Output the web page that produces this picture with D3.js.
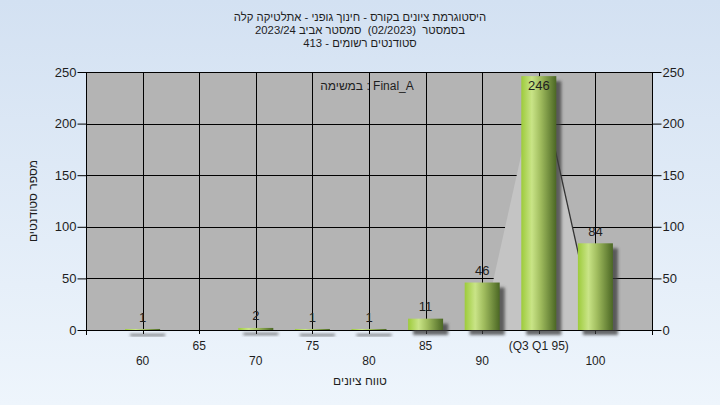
<!DOCTYPE html>
<html>
<head>
<meta charset="utf-8">
<script src="https://cdn.jsdelivr.net/npm/d3@7/dist/d3.min.js"></script>
<style>
  html, body { margin: 0; padding: 0; }
  body { width: 720px; height: 405px; overflow: hidden; }
  text { font-family: "Liberation Sans", Arial, sans-serif; fill: #1e1e1e; }
</style>
</head>
<body>
<svg id="chart" width="720" height="405"></svg>
<script>
// ---- data ----
const titleLines = [
  "היסטוגרמת ציונים בקורס - חינוך גופני - אתלטיקה קלה",
  "בסמסטר  (02/2023)  סמסטר אביב 2023/24",
  "סטודנטים רשומים - 413"
];
const annotation = "במשימה : Final_A";
const yTitle = "מספר סטודנטים";
const xTitle = "טווח ציונים";
const categories = ["60", "65", "70", "75", "80", "85", "90", "95", "100"];
const xTickLabels = ["60", "65", "70", "75", "80", "85", "90", "(Q3 Q1 95)", "100"];
const counts = [1, 0, 2, 1, 1, 11, 46, 246, 84];
const peakCats = ["90", "95", "100"];
const peakValues = [0, 246, 0];
const yTicks = [0, 50, 100, 150, 200, 250];

// ---- layout ----
const W = 720, H = 405;
const plot = { left: 86, right: 652, top: 72, bottom: 330 };

const svg = d3.select("#chart");
const defs = svg.append("defs");

const bg = defs.append("linearGradient").attr("id", "bg")
  .attr("x1", 0).attr("y1", 0).attr("x2", 0).attr("y2", 1);
bg.append("stop").attr("offset", "0%").attr("stop-color", "#d3e1f2");
bg.append("stop").attr("offset", "100%").attr("stop-color", "#eef5fc");

const barGrad = defs.append("linearGradient").attr("id", "barGrad")
  .attr("x1", 0).attr("y1", 0).attr("x2", 1).attr("y2", 0);
[["0%", "#9dcb3b"], ["30%", "#c9e487"], ["55%", "#a0bc5e"], ["100%", "#4b6724"]]
  .forEach(([o, c]) => barGrad.append("stop").attr("offset", o).attr("stop-color", c));

const blur = defs.append("filter").attr("id", "blur")
  .attr("x", "-50%").attr("y", "-50%").attr("width", "200%").attr("height", "200%");
blur.append("feGaussianBlur").attr("stdDeviation", 1.6);

svg.append("rect").attr("width", W).attr("height", H).attr("fill", "url(#bg)");

// scales
const x = d3.scalePoint().domain(categories).range([plot.left, plot.right]).padding(1);
const y = d3.scaleLinear().domain([0, 250]).range([plot.bottom, plot.top]);
const barW = 35;

// plot background
svg.append("rect")
  .attr("x", plot.left).attr("y", plot.top)
  .attr("width", plot.right - plot.left).attr("height", plot.bottom - plot.top)
  .attr("fill", "#b4b4b4");

// gridlines
const grid = svg.append("g").attr("stroke", "#000").attr("stroke-width", 1);
grid.selectAll("line.h").data(yTicks).join("line")
  .attr("x1", plot.left).attr("x2", plot.right)
  .attr("y1", d => Math.round(y(d)) + 0.5).attr("y2", d => Math.round(y(d)) + 0.5);
grid.selectAll("line.v").data(categories).join("line")
  .attr("y1", plot.top).attr("y2", plot.bottom + 4)
  .attr("x1", d => Math.round(x(d)) + 0.5).attr("x2", d => Math.round(x(d)) + 0.5);

// peak area (light triangle)
const peak = peakCats.map((c, i) => [x(c), y(peakValues[i])]);
svg.append("path")
  .attr("d", d3.line()(peak) + "Z")
  .attr("fill", "#c4c4c4");
svg.append("path")
  .attr("d", d3.line()(peak.slice(1)))
  .attr("fill", "none").attr("stroke", "#333").attr("stroke-width", 1.3);

// axes
const yLeft = d3.axisLeft(y).tickValues(yTicks).tickSize(9).tickPadding(1);
const yRight = d3.axisRight(y).tickValues(yTicks).tickSize(9).tickPadding(1);
const gl = svg.append("g").attr("transform", `translate(${plot.left + 0.5},0)`).call(yLeft);
const gr = svg.append("g").attr("transform", `translate(${plot.right + 0.5},0)`).call(yRight);
[gl, gr].forEach(g => {
  g.select(".domain").remove();
  g.selectAll(".tick line").attr("stroke", "#000");
  g.selectAll(".tick text").attr("font-size", 13).attr("fill", "#1e1e1e")
    .attr("font-family", "'Liberation Sans', Arial, sans-serif");
});
// frame lines
const frame = svg.append("g").attr("stroke", "#000").attr("stroke-width", 1);
frame.append("line").attr("x1", plot.left + 0.5).attr("x2", plot.left + 0.5)
  .attr("y1", plot.top).attr("y2", plot.bottom + 5);
frame.append("line").attr("x1", plot.right + 0.5).attr("x2", plot.right + 0.5)
  .attr("y1", plot.top).attr("y2", plot.bottom + 5);
frame.append("line").attr("x1", plot.left).attr("x2", plot.right + 1)
  .attr("y1", plot.bottom + 0.5).attr("y2", plot.bottom + 0.5);

// bars
const barData = categories.map((c, i) => ({ c, v: counts[i], label: xTickLabels[i] }))
  .filter(d => d.v > 0);
svg.append("g").selectAll("rect").data(barData).join("rect")
  .attr("x", d => x(d.c) - barW / 2 + 5)
  .attr("y", d => y(d.v) + 5)
  .attr("width", barW)
  .attr("height", d => Math.max(2, plot.bottom - y(d.v)))
  .attr("fill", "#3a3a3a").attr("opacity", 0.75)
  .attr("filter", "url(#blur)");
svg.append("g").selectAll("rect").data(barData).join("rect")
  .attr("x", d => x(d.c) - barW / 2)
  .attr("y", d => y(d.v))
  .attr("width", barW)
  .attr("height", d => plot.bottom - y(d.v))
  .attr("fill", "url(#barGrad)");

// bar labels
svg.append("g").selectAll("text").data(barData).join("text")
  .attr("x", d => x(d.c))
  .attr("y", d => Math.max(y(d.v) - 12, plot.top + 13))
  .attr("dy", "0.35em")
  .attr("text-anchor", "middle")
  .attr("font-size", 13)
  .text(d => d.v);

// x tick labels (two staggered rows)
svg.append("g").selectAll("text").data(categories).join("text")
  .attr("x", d => x(d))
  .attr("y", (d, i) => i % 2 === 0 ? 361 : 346)
  .attr("dy", "0.35em")
  .attr("text-anchor", "middle")
  .attr("font-size", 12)
  .text((d, i) => xTickLabels[i]);

// annotation
svg.append("text").attr("x", 367).attr("y", 86).attr("dy", "0.35em")
  .attr("text-anchor", "middle").attr("font-size", 12).text(annotation);

// titles
svg.append("g").selectAll("text").data(titleLines).join("text")
  .attr("x", 360).attr("y", (d, i) => 17 + i * 13)
  .attr("dy", "0.35em")
  .attr("text-anchor", "middle")
  .attr("direction", "rtl")
  .attr("font-size", 11.3)
  .style("white-space", "pre")
  .text(d => d);

svg.append("text").attr("x", 360).attr("y", 381).attr("dy", "0.35em")
  .attr("text-anchor", "middle").attr("direction", "rtl").attr("font-size", 12).text(xTitle);

svg.append("text")
  .attr("transform", "translate(33,201) rotate(-90)")
  .attr("dy", "0.35em")
  .attr("text-anchor", "middle").attr("direction", "rtl").attr("font-size", 12).text(yTitle);
</script>
</body>
</html>
